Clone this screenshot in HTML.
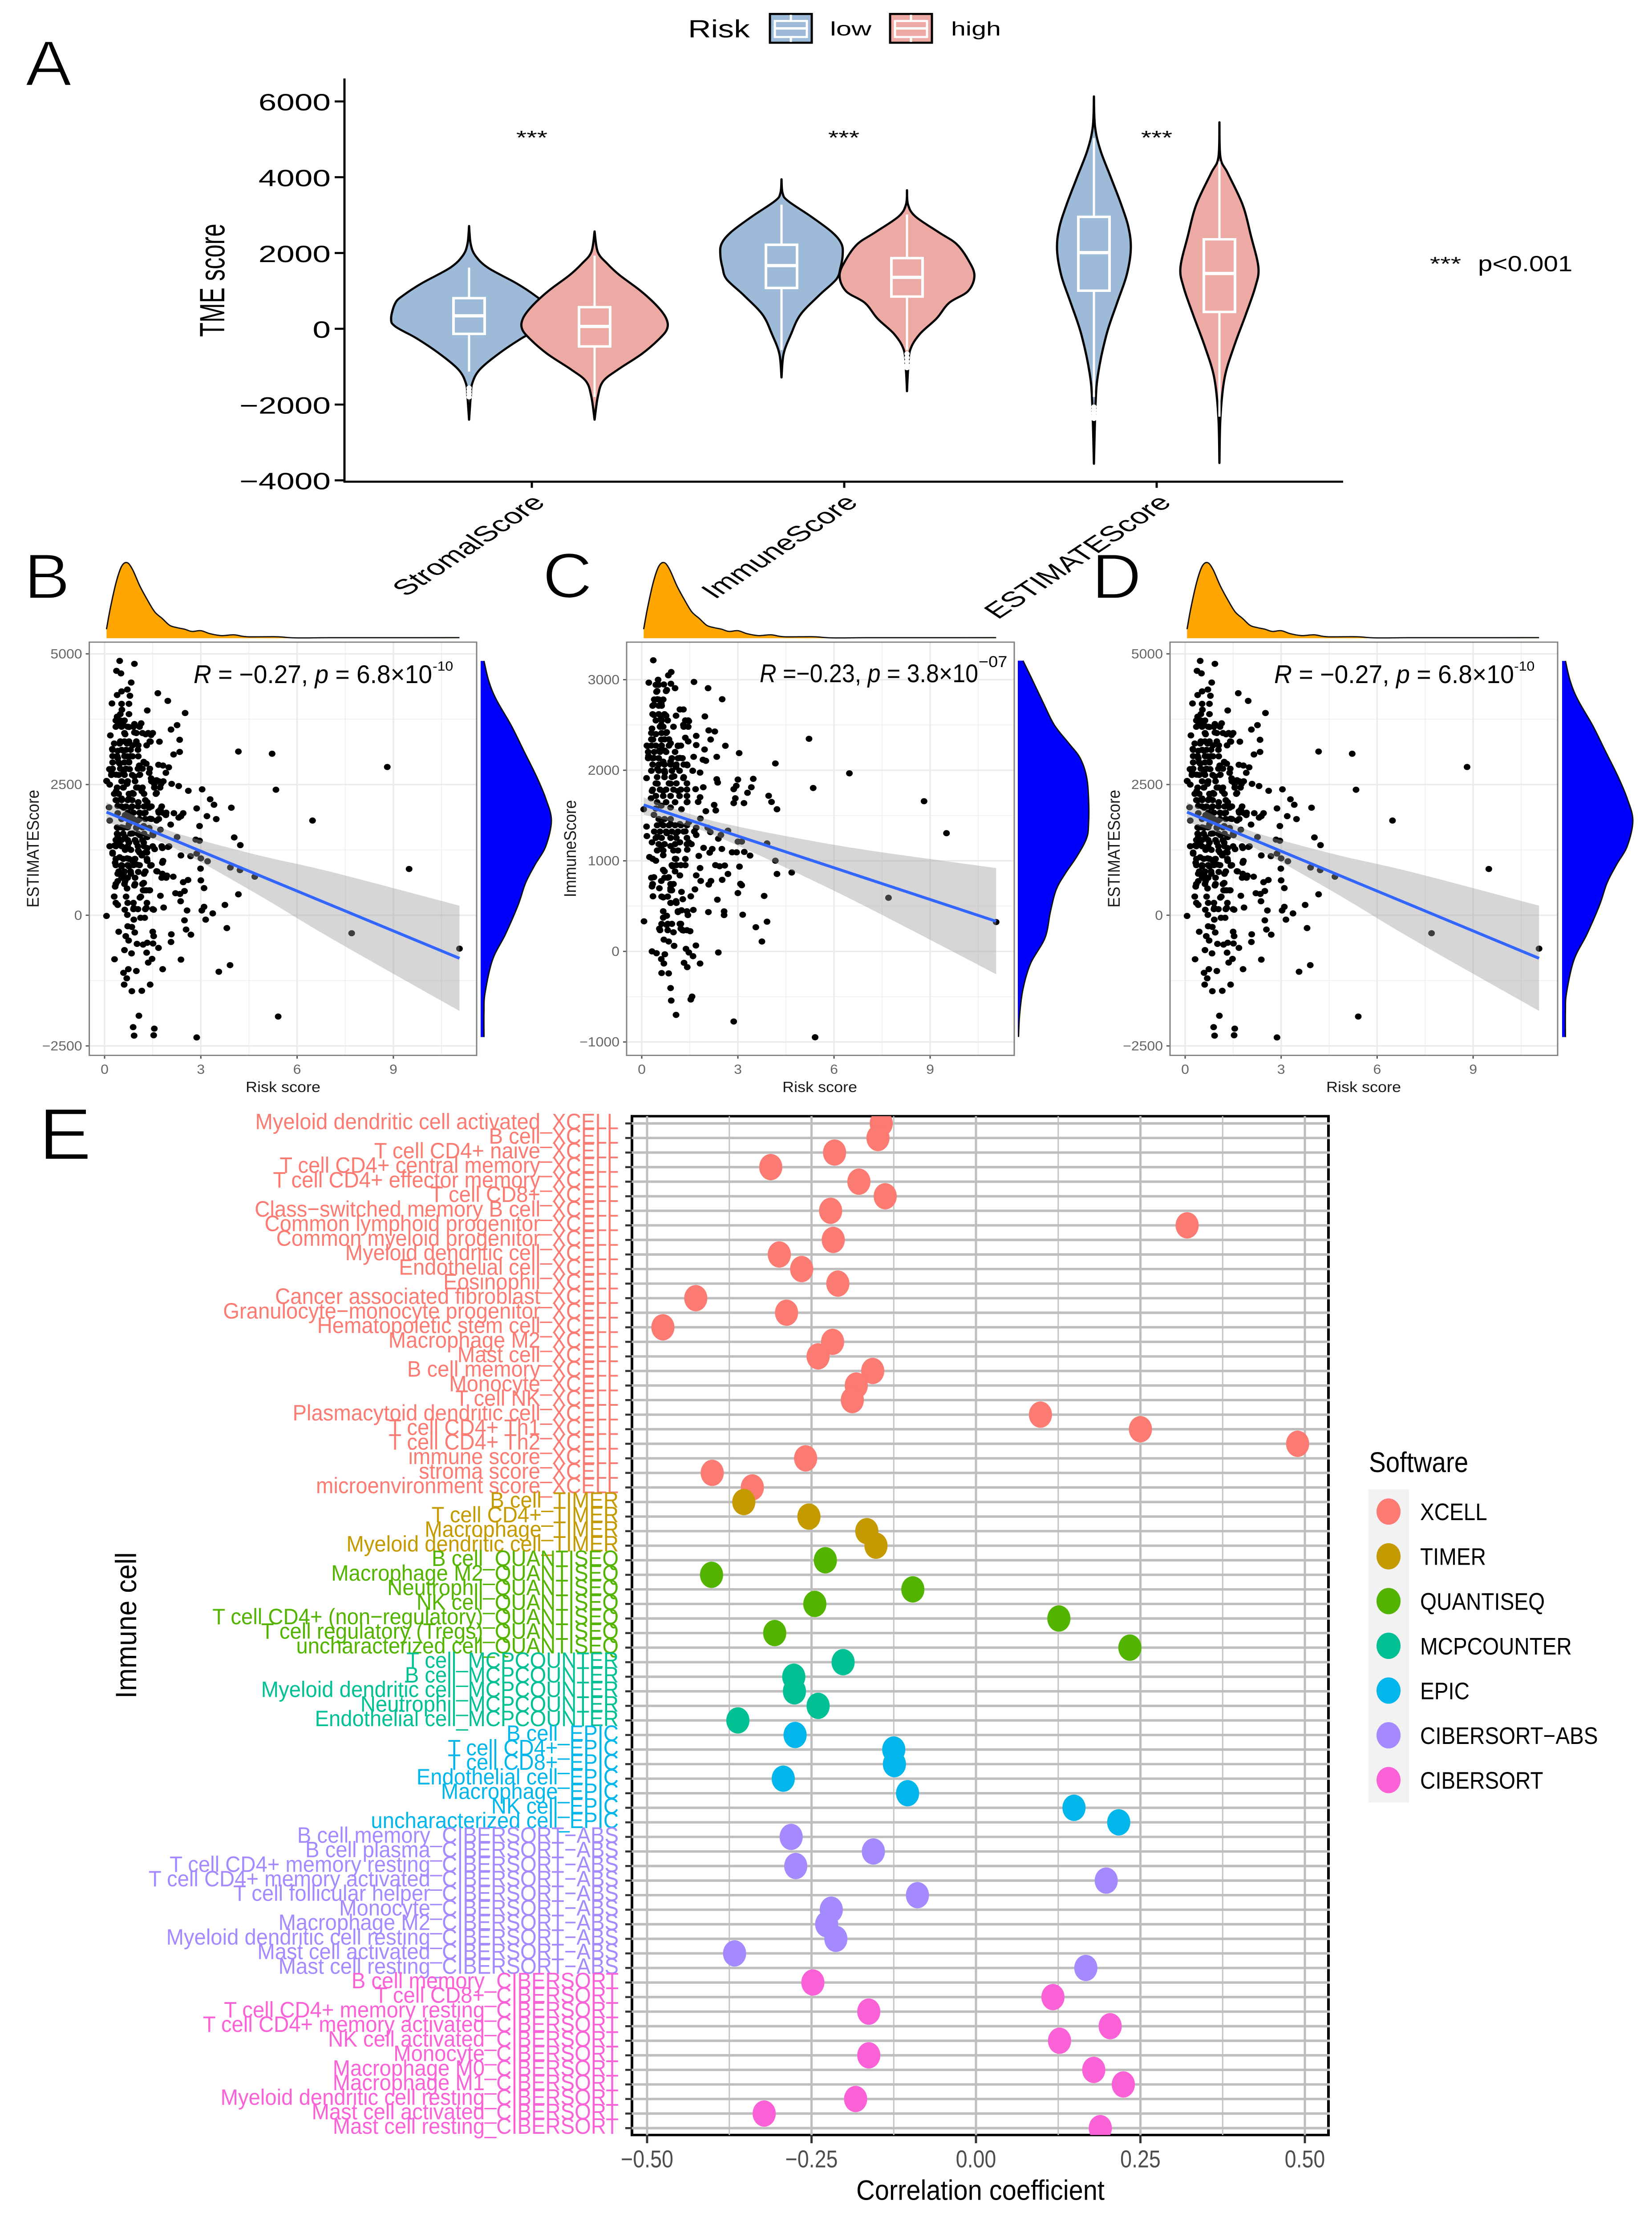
<!DOCTYPE html>
<html lang="en">
<head>
<meta charset="utf-8">
<title>TME score, risk correlations and immune cell correlation figure</title>
<style>
html,body{margin:0;padding:0;background:#fff;width:100%;height:100%;overflow:hidden;}
svg{display:block;width:100vw;height:100vh;font-family:"Liberation Sans",sans-serif;}
text{font-family:"Liberation Sans",sans-serif;}
</style>
</head>
<body>
<svg id="figure" xmlns="http://www.w3.org/2000/svg" viewBox="0 0 3712 5414" preserveAspectRatio="none">
<defs><clipPath id="panel-e-clip"><rect x="1420" y="2716" width="1565" height="2479"/></clipPath></defs>
<rect x="0" y="0" width="3712" height="5414" fill="#fff"/>

<g fill="#000" stroke="#fff" stroke-width="3">
<text x="57" y="208" font-size="156">A</text>
<text x="54" y="1456" font-size="155">B</text>
<text x="1219" y="1454" font-size="155">C</text>
<text x="2453" y="1456" font-size="155">D</text>
<text x="87" y="2821" font-size="178">E</text>
</g>

<g id="panel-a"></g>
<g fill="#000">
<text font-size="57" text-anchor="middle" transform="translate(504,682) scale(1.38,1) rotate(-90)">TME score</text>
<text font-size="53" text-anchor="end" transform="translate(1228,1226) scale(1.39,1) rotate(-45)">StromalScore</text>
<text font-size="53" text-anchor="end" transform="translate(1931,1226) scale(1.39,1) rotate(-45)">ImmuneScore</text>
<text font-size="53" text-anchor="end" transform="translate(2635,1226) scale(1.39,1) rotate(-45)">ESTIMATEScore</text>
<text font-size="47" text-anchor="middle" transform="translate(1195,351) scale(1.28,1)">***</text>
<text font-size="47" text-anchor="middle" transform="translate(1896,351) scale(1.28,1)">***</text>
<text font-size="47" text-anchor="middle" transform="translate(2599,351) scale(1.28,1)">***</text>
<text font-size="47" text-anchor="middle" transform="translate(3248,658) scale(1.28,1)">***</text>
<text font-size="53" transform="translate(3321,660) scale(1.1,1)">p&lt;0.001</text>
<text font-size="60" transform="translate(1546,91) scale(1.19,1)">Risk</text>
<g>
<rect x="1730" y="34" width="94" height="70" fill="#9DBAD9" stroke="#000" stroke-width="5"/>
<line x1="1777" x2="1777" y1="36" y2="102" stroke="#fff" stroke-width="5"/>
<rect x="1741" y="51" width="72" height="39" fill="#9DBAD9" stroke="#fff" stroke-width="5"/>
<line x1="1741" x2="1813" y1="69" y2="69" stroke="#fff" stroke-width="6"/>
<text font-size="47" transform="translate(1865,86) scale(1.32,1)">low</text>
</g>
<g>
<rect x="2000" y="34" width="94" height="70" fill="#EDA9A3" stroke="#000" stroke-width="5"/>
<line x1="2047" x2="2047" y1="36" y2="102" stroke="#fff" stroke-width="5"/>
<rect x="2011" y="51" width="72" height="39" fill="#EDA9A3" stroke="#fff" stroke-width="5"/>
<line x1="2011" x2="2083" y1="69" y2="69" stroke="#fff" stroke-width="6"/>
<text font-size="47" transform="translate(2137,86) scale(1.26,1)">high</text>
</g>
</g>

<g id="panel-b"></g>
<g id="panel-c"></g>
<g id="panel-d"></g>

<g fill="#000" font-size="62">
<text x="435" y="1662" textLength="536" lengthAdjust="spacingAndGlyphs"><tspan font-style="italic">R</tspan> = −0.27, <tspan font-style="italic">p</tspan> = 6.8×10</text>
<text x="972" y="1632" font-size="32">-10</text>
<text x="1707" y="1660" textLength="491" lengthAdjust="spacingAndGlyphs"><tspan font-style="italic">R</tspan> =−0.23, <tspan font-style="italic">p</tspan> = 3.8×10</text>
<text x="2199" y="1623" font-size="38">−07</text>
<text x="2863" y="1662" textLength="539" lengthAdjust="spacingAndGlyphs"><tspan font-style="italic">R</tspan> = −0.27, <tspan font-style="italic">p</tspan> = 6.8×10</text>
<text x="3402" y="1632" font-size="32">-10</text>
</g>
<g fill="#1a1a1a" font-size="38">
<text text-anchor="middle" transform="translate(87,2065) rotate(-90)">ESTIMATEScore</text>
<text text-anchor="middle" transform="translate(1294,2065) rotate(-90)">ImmuneScore</text>
<text text-anchor="middle" transform="translate(2516,2065) rotate(-90)">ESTIMATEScore</text>
<text text-anchor="middle" font-size="36" x="636" y="2657">Risk score</text>
<text text-anchor="middle" font-size="36" x="1842" y="2657">Risk score</text>
<text text-anchor="middle" font-size="36" x="3064" y="2657">Risk score</text>
</g>

<g id="panel-e"></g>
<g fill="#000">
<text font-size="66" text-anchor="middle" transform="translate(306,3955) rotate(-90)">Immune cell</text>
<text font-size="68" text-anchor="middle" transform="translate(2203,5353) scale(.85,1)">Correlation coefficient</text>
<text font-size="69" transform="translate(3076,3582) scale(.82,1)">Software</text>
<rect x="3075" y="3624" width="91" height="762" fill="#f2f2f2"/>
</g>
<g id="software-legend"></g>
</svg>

<script>
// ---------- Panel A data: TME score violins ----------
const tickScoresA = [6000, 4000, 2000, 0, -2000, -4000];
const categoriesA = ['StromalScore', 'ImmuneScore', 'ESTIMATEScore'];
const stromalLowScore = [2714, 2240, 1930, 1610, 1200, 890, 680, 270, 60, -250, -660, -1080, -1440, -1800, -2400];
const stromalLowDensity = [0, 1.5, 6, 18, 45, 62, 70, 74, 70, 50, 28, 10, 3, 1.5, 0];
const stromalHighScore = [2570, 2030, 1720, 1410, 995, 580, 270, 10, -250, -660, -1080, -1390, -1800, -2400];
const stromalHighDensity = [0, 3, 12, 24, 44, 60, 68, 69, 62, 45, 22, 8, 3, 0];
const immuneLowScore = [3947, 3585, 3377, 2963, 2549, 2238, 1927, 1616, 1305, 890, 373, -145, -663, -1285];
const immuneLowDensity = [0, 1, 6, 28, 48, 57, 58, 56, 52, 36, 18, 9, 2, 0];
const immuneHighScore = [3657, 3274, 2963, 2549, 2238, 1823, 1409, 995, 684, 269, -145, -560, -1077, -1647];
const immuneHighDensity = [0, 1, 8, 30, 47, 58, 64, 58, 40, 28, 12, 3, 1, 0];
const estimateLowScore = [6133, 5346, 4724, 3999, 3274, 2652, 2082, 1409, 684, -145, -1181, -2010, -3564];
const estimateLowDensity = [0, 1, 6, 16, 26, 33, 35, 31, 22, 12, 4, 1.5, 0];
const estimateHighScore = [5449, 4517, 4103, 3274, 2445, 1616, 1098, 373, -456, -1285, -2321, -3543];
const estimateHighDensity = [0, 1, 8, 22, 30, 37, 34, 25, 14, 5, 1, 0];
const boxQ1 = [-135, -466, 1077, 850, 1005, 445];
const boxMedian = [342, 62, 1668, 1357, 2010, 1460];
const boxQ3 = [808, 570, 2217, 1865, 2953, 2362];
const whiskerLow = [-1130, -1800, -560, -560, -1800, -2320];
const whiskerHigh = [1616, 1930, 3274, 3015, 5035, 4413];
const outliersStromalLow = [-1560, -1640, -1720, -1800];
const outliersImmuneHigh = [-660, -760, -860, -960, -1030];
const outliersEstimateLow = [-2060, -2140, -2220, -2300, -2370];

// ---------- Panels B / D data: risk score vs ESTIMATEScore ----------
const riskTicks = [0, 3, 6, 9];
const riskMinorTicks = [1.5, 4.5, 7.5, 10.5];
const estimateTicks = [-2500, 0, 2500, 5000];
const estimateMinorTicks = [-1250, 1250, 3750];
const immuneTicks = [-1000, 0, 1000, 2000, 3000];
const immuneMinorTicks = [-500, 500, 1500, 2500];
const riskScoreB = [11.06,9.49,8.81,7.70,6.48,5.41,5.34,5.22,4.17,3.95,4.04,4.23,4.22,4.68,3.92,4.17,3.91,3.56,3.81,3.75,3.37,3.15,3.03,3.10,3.10,3.00,2.99,3.21,3.00,2.87,2.68,2.38,2.96,2.84,2.96,3.19,2.87,3.48,3.41,3.29,3.04,2.61,2.31,2.09,2.38,2.45,2.16,2.31,2.06,2.26,1.98,2.14,1.94,2.45,2.60,2.49,2.21,2.35,2.37,2.57,2.49,2.54,2.69,2.08,2.07,2.38,1.81,2.87,1.53,1.55,0.92,0.89,1.07,0.85,1.16,1.42,0.61,0.69,0.59,0.74,0.99,0.31,0.62,0.84,1.36,1.48,1.31,1.68,1.51,1.33,1.20,1.01,0.44,0.66,0.75,1.53,1.50,0.94,0.85,0.72,0.06,0.71,0.91,1.12,1.25,1.53,1.84,1.30,1.10,0.91,0.63,0.41,0.30,0.33,0.41,0.64,0.93,1.22,1.20,1.30,1.39,1.74,1.62,1.80,1.80,1.82,1.43,1.33,1.23,1.01,0.87,0.70,0.47,0.33,0.25,0.16,0.31,0.64,1.05,1.33,1.56,1.80,0.14,0.16,0.41,0.64,0.87,1.10,1.39,1.68,1.91,1.74,1.74,0.41,0.59,0.76,0.99,1.22,1.39,1.51,1.33,1.10,0.87,0.64,0.41,0.47,0.76,0.99,1.22,0.82,1.16,0.53,0.76,0.93,0.59,0.82,1.05,0.41,0.70,0.06,0.16,0.36,0.59,0.76,0.99,1.16,1.33,1.62,1.76,1.62,1.45,1.39,1.68,2.00,1.82,1.91,1.30,1.08,1.22,0.78,0.59,0.36,0.22,0.15,0.24,0.41,0.70,0.87,0.64,0.30,0.47,0.70,0.87,1.05,1.31,1.43,1.71,1.28,1.45,0.93,0.64,0.18,0.41,0.59,0.76,0.93,1.14,0.39,0.49,0.76,1.33,0.54,0.23,0.53,0.76,1.66,1.97,2.51,2.34,2.26,2.07,2.15,2.34,0.37,0.51,0.47,0.93,0.83,0.71,0.53,0.39,0.79,0.53,0.39,0.87,1.05,1.22,0.82,0.59,0.41,0.70,0.93,1.10,0.47,0.76,0.41,0.59,1.05,1.55,1.84,1.42,1.62,0.76,1.03];
const estimateScore = [-639,885,2836,-344,1811,-1938,2401,3089,3131,2057,1488,1341,863,737,913,400,-955,-1081,-246,197,35,-84,91,161,519,667,892,1032,1088,1179,1130,1144,1425,1446,1706,1895,2043,1839,2113,2218,2408,2380,2471,2513,1895,1952,1952,1867,1734,1495,1306,737,758,632,674,463,421,407,267,91,-98,-274,-372,-365,-512,-849,-1032,-2338,-2296,-2169,-2303,-2141,-1923,-1453,-1446,-1327,-1327,-1207,-1102,-1032,-1067,-842,-667,-730,-906,-835,-716,-625,-541,-527,-562,-548,-316,-400,-484,-400,-316,-330,-225,-211,-14,7,-84,-49,-49,105,147,140,337,140,105,197,358,548,653,653,569,618,477,477,477,372,842,793,1004,1039,948,1039,793,969,1039,1088,1109,1004,1179,1320,1334,1250,1236,1285,1264,1285,2064,1811,1952,1916,1846,1952,2057,1987,1916,2022,1636,1671,1671,1741,1671,1706,1671,1530,1495,1530,1565,1495,1495,1355,1390,1390,1390,1250,1144,934,934,1074,793,793,828,793,512,2569,2499,2373,2443,2232,2443,2373,2162,2338,2513,2583,2618,2724,2878,2829,2864,2724,2899,2864,2934,2794,2724,2689,2724,2794,3180,3005,3040,3040,2794,3285,3285,3285,3250,3250,3250,3320,3320,3461,3447,3496,3461,3440,3636,3636,3601,3657,3671,3798,3847,3847,3917,3931,4051,4044,4044,4247,4100,3868,3356,3636,3552,3075,3124,4675,4626,4865,4809,4451,4317,4282,4212,4198,2232,2197,2338,2162,1952,2057,2057,2092,2513,2654,2689,2899,2934,3145,3145,3040,2513,1952,1846,1811,1881,1811];
// Dense cloud of B/D, read row by row: one score level, the risk scores seen at that level
const denseEstimateLevels = [3726,3605,3485,3325,3164,3044,2923,2803,2683,2563,2442,2322,2202,2081,1961,1841,1680,1560,1439,1319,1199,1078,958,838,717,597,477,356,236,116];
const denseEstimateRisk = [[.35,.49,.62],[.35,.53,.72,.90,1.09],[.62,.99,1.18,1.36,1.50],[.49,.62,.76,.99,1.41],[.25,.53,.67,.81,1.04],[.25,.39,.62,.81],[.25,.44,.62,.76,1.23],[.25,.49,.67,1.04,1.18,1.41],[.21,.44,.62,.86,1.09],[.07,.53,.72,.95,1.46,1.69,1.83],[.39,.58,1.04,1.18,1.55,1.73],[.30,.44,.76,.90,1.23,1.60],[.35,.53,.72,.86,1.27],[.53,.67,.86,1.04,1.23,1.46,1.78],[.72,.90,1.09,1.27,1.69,1.92],[.53,.72,.90,1.09,1.27,1.46,1.69],[.39,.53,.72,.99,1.18],[.39,.58,.81,1.04,1.23,1.50],[.35,.53,.72,.95,1.18],[.16,.35,.53,.72,1.04,1.23,1.50,1.78,2.01],[.25,1.09,1.27,1.32],[.35,.58,.76,.95,1.32],[.35,.53,.72,.90,1.09,1.46],[.44,.62,.81,1.27,1.64],[.53,.72,.95,1.78,1.92],[.35,.62,.95,1.18],[1.23,1.41],[.30,.67,1.13],[.35,.72,.90,1.32],[.90,1.04,1.27,1.50]];

// ---------- Panel C data: risk score vs ImmuneScore ----------
const riskScoreC = [11.06,9.51,8.81,7.70,6.48,5.41,5.35,5.22,4.17,4.22,4.05,3.96,3.91,4.17,4.22,4.68,3.82,3.91,3.75,3.56,3.15,3.12,3.08,3.00,3.05,3.38,3.20,2.96,2.82,3.12,3.00,2.69,2.69,2.47,2.39,3.19,2.87,2.92,2.87,2.95,3.00,3.30,3.42,3.48,3.04,2.61,2.34,2.51,2.07,1.63,1.97,2.09,2.28,2.15,1.96,1.91,2.00,2.34,2.37,1.92,2.26,2.31,2.00,1.82,1.68,1.82,1.76,1.83,2.06,2.14,1.93,2.20,2.12,1.78,2.50,2.30,2.43,2.59,2.51,2.16,2.09,1.84,1.82,1.70,1.66,1.53,2.36,2.57,2.57,2.08,1.61,1.44,1.51,1.30,1.19,1.69,1.38,1.47,1.60,2.39,1.82,1.32,1.42,0.84,0.62,0.69,0.61,0.72,0.32,0.46,1.01,0.84,0.69,0.55,0.67,0.78,0.07,0.78,0.99,1.22,0.90,0.92,1.07,1.57,1.53,2.87,0.35,0.32,0.38,0.24,0.44,0.16,0.15,0.06,0.29,0.15,0.32,0.21,0.38,0.18,0.35,0.32,0.44,0.22,0.36,0.51,0.83,0.92,0.69,0.91,1.04,0.78,0.46,0.38,0.61,0.49,0.38,0.61,0.76,1.07,1.19,1.30,0.99,0.61,0.78,0.61,0.90,1.13,1.36,1.47,1.30,1.45,1.70,1.70,1.62,1.42,1.59,1.30,1.07,0.90,0.67,0.49,0.72,1.01,1.19,0.55,0.72,0.49,0.67,0.90,1.13,1.42,1.24,0.90,0.61,0.38,0.61,0.90,1.19,1.47,1.70,1.36,1.07,0.78,0.49,0.32,0.61,0.90,1.19,1.47,1.70,1.42,1.07,0.67,1.36,0.96,0.67,1.19,0.84,0.61,0.90,1.24,0.55,1.07,0.90,0.67,1.24,1.13,1.28];
const immuneScore = [324,1305,1658,592,1966,-948,1804,2347,2075,1569,1650,1718,1192,1001,855,871,612,328,109,267,405,730,746,644,936,1058,1098,1094,1094,1212,1212,855,1333,1285,1244,1637,1637,1690,1791,1828,1897,1751,1812,1905,2189,2270,2148,2784,2906,2975,2594,2440,2428,2339,2229,2116,2104,1901,1864,1812,1617,1556,1548,1974,1791,1702,1650,1467,1366,1317,1143,1131,1090,1054,1131,952,940,948,790,778,738,778,920,839,685,608,571,442,401,434,458,401,223,231,304,65,28,-12,-53,-12,-134,-126,-174,-243,-239,-134,-85,-32,0,-20,61,109,130,251,373,393,332,292,211,251,-405,-543,-701,-499,-531,-774,608,717,819,1042,1001,1273,1378,1569,1690,1913,1771,2156,2136,2266,2339,2460,2399,2967,3214,2999,3048,3084,2947,2955,2906,2886,2866,2724,2736,2784,2610,2582,2602,2602,2671,2671,2480,2501,2420,2339,2298,2266,2359,2541,2501,2318,2379,2278,2148,2055,1994,1913,2035,2095,2095,2014,1974,1933,2136,2217,2217,1852,1771,1852,1771,1650,1569,1589,1609,1508,1406,1406,1406,1427,1366,1325,1305,1305,1265,1204,1163,1163,1204,1204,1285,1123,1021,1062,1021,940,900,839,819,778,697,657,697,555,535,596,454,434,576];
// Dense cloud of C, read row by row
const denseImmuneLevels = [2943,2874,2781,2712,2619,2550,2480,2411,2341,2272,2202,2133,2063,1994,1924,1855,1786,1716,1647,1577,1461,1392,1323,1253,1184,1114,1022,952,883,813,744,674,605,535,443,304,234];
const denseImmuneRisk = [[.53,.44],[.48,.76],[.39,.53,.67],[.34,.53,.62],[.34,.53,.71],[.44,.62,.81,1.36,1.45],[.57,.67,1.31,1.45],[.30,.62,.76],[.71,.85,.30],[.16,.30,.44,.62,.85,1.13,1.22],[.20,.39,.57,.76,1.04],[.20,.34,.53,.94,1.13,1.27],[.34,.53,.71,.90,1.08,1.31,1.41],[.30,.53,.71,.94,1.18,1.59],[.48,.71,.94,1.31],[.44,.85,1.08,1.41],[.34,.57,.76,.99,1.22,1.41],[.44,.67,.90,1.18,1.41],[.48,.76,1.04,1.41],[.44],[.53,.71,.90],[.48,.67,.85,1.04,1.22,1.41],[.39,.57,.76,.94,1.13,1.31,1.64],[.44,.62,.90,1.08,1.41],[.53,.71,1.04,1.41,1.55],[.48,.67,.99,1.13],[.34,1.04],[.94,1.08,1.22,1.36],[.71,1.04],[.30,.71,.81],[.34,.90,.99],[.90,.94],[.62,.81],[.90,1.08],[.67,1.13,1.41],[.62,.81,.94,1.22],[.57,.81,1.27,1.41]];

// ---------- Regression fits and confidence bands ----------
const fitRisk = [0.06, 1.4, 2.5, 4.8, 7.1, 11.06];
const estimateFit = [1973, 1632, 1352, 767, 183, -824];
const estimateUpper = [2163, 1772, 1522, 1147, 823, 183];
const estimateLower = [1783, 1492, 1182, 387, -457, -1831];
const immuneFit = [1617, 1460, 1332, 1063, 795, 332];
const immuneUpper = [1700, 1530, 1417, 1253, 1115, 920];
const immuneLower = [1510, 1390, 1247, 873, 475, -252];

// ---------- Marginal densities ----------
const riskDensityX = [0.06,0.18,0.36,0.53,0.70,0.87,1.10,1.33,1.56,1.80,2.03,2.26,2.49,2.72,3.00,3.29,3.64,4.04,4.44,5.36,5.94,7.0,9.0,11.06];
const riskDensityY = [0.12,0.40,0.74,0.95,1.0,0.91,0.69,0.51,0.35,0.26,0.17,0.14,0.12,0.09,0.10,0.06,0.035,0.045,0.02,0.02,0.005,0.007,0.007,0.008];
const estimateDensityScore = [4865,4479,4128,3636,3145,2654,2232,1811,1320,969,618,197,-365,-856,-1488,-1839,-2331];
const estimateDensityValue = [0.047,0.115,0.22,0.43,0.61,0.79,0.92,1.0,0.92,0.77,0.635,0.53,0.35,0.167,0.0625,0.047,0.047];
const immuneDensityScore = [3210,3007,2744,2501,2298,2136,1933,1690,1406,1244,1042,859,677,434,150,-134,-417,-701,-944];
const immuneDensityValue = [0.073,0.20,0.36,0.515,0.72,0.88,0.97,1.0,1.0,0.97,0.83,0.67,0.54,0.46,0.385,0.18,0.073,0.026,0.01];

// ---------- Panel E data ----------
const softwareNames = ['XCELL', 'TIMER', 'QUANTISEQ', 'MCPCOUNTER', 'EPIC', 'CIBERSORT−ABS', 'CIBERSORT'];
const softwareCounts = [26, 4, 7, 5, 7, 10, 11];
const immuneCells = ['Myeloid dendritic cell activated','B cell','T cell CD4+ naive','T cell CD4+ central memory','T cell CD4+ effector memory','T cell CD8+','Class−switched memory B cell','Common lymphoid progenitor','Common myeloid progenitor','Myeloid dendritic cell','Endothelial cell','Eosinophil','Cancer associated fibroblast','Granulocyte−monocyte progenitor','Hematopoietic stem cell','Macrophage M2','Mast cell','B cell memory','Monocyte','T cell NK','Plasmacytoid dendritic cell','T cell CD4+ Th1','T cell CD4+ Th2','immune score','stroma score','microenvironment score',
'B cell','T cell CD4+','Macrophage','Myeloid dendritic cell',
'B cell','Macrophage M2','Neutrophil','NK cell','T cell CD4+ (non−regulatory)','T cell regulatory (Tregs)','uncharacterized cell',
'T cell','B cell','Myeloid dendritic cell','Neutrophil','Endothelial cell',
'B cell','T cell CD4+','T cell CD8+','Endothelial cell','Macrophage','NK cell','uncharacterized cell',
'B cell memory','B cell plasma','T cell CD4+ memory resting','T cell CD4+ memory activated','T cell follicular helper','Monocyte','Macrophage M2','Myeloid dendritic cell resting','Mast cell activated','Mast cell resting',
'B cell memory','T cell CD8+','T cell CD4+ memory resting','T cell CD4+ memory activated','NK cell activated','Monocyte','Macrophage M0','Macrophage M1','Myeloid dendritic cell resting','Mast cell activated','Mast cell resting'];
const correlations = [-0.144,-0.149,-0.215,-0.312,-0.178,-0.138,-0.221,0.321,-0.217,-0.299,-0.265,-0.210,-0.426,-0.288,-0.476,-0.218,-0.240,-0.157,-0.182,-0.188,0.098,0.250,0.489,-0.259,-0.401,-0.340,
-0.353,-0.254,-0.166,-0.152,
-0.229,-0.402,-0.096,-0.245,0.126,-0.306,0.234,
-0.202,-0.277,-0.276,-0.240,-0.362,
-0.275,-0.125,-0.124,-0.293,-0.104,0.149,0.217,
-0.281,-0.156,-0.274,0.198,-0.089,-0.220,-0.227,-0.213,-0.367,0.167,
-0.248,0.117,-0.163,0.204,0.127,-0.163,0.179,0.224,-0.183,-0.322,0.189];
const correlationTicks = [-0.50, -0.25, 0, 0.25, 0.50];
const correlationMinorTicks = [-0.375, -0.125, 0.125, 0.375];

// ---------- Helpers ----------
const NS = 'http://www.w3.org/2000/svg';
function mk(tag, attrs, parent) {
  const el = document.createElementNS(NS, tag);
  for (const k in attrs) el.setAttribute(k, attrs[k]);
  parent.appendChild(el);
  return el;
}
function smoothPath(pts, move) {
  let d = (move ? 'M' : 'L') + pts[0][0].toFixed(1) + ' ' + pts[0][1].toFixed(1);
  for (let i = 0; i < pts.length - 1; i++) {
    const p0 = pts[Math.max(0, i - 1)], p1 = pts[i], p2 = pts[i + 1], p3 = pts[Math.min(pts.length - 1, i + 2)];
    const c1 = [p1[0] + (p2[0] - p0[0]) / 6, p1[1] + (p2[1] - p0[1]) / 6];
    const c2 = [p2[0] - (p3[0] - p1[0]) / 6, p2[1] - (p3[1] - p1[1]) / 6];
    d += 'C' + c1[0].toFixed(1) + ' ' + c1[1].toFixed(1) + ' ' + c2[0].toFixed(1) + ' ' + c2[1].toFixed(1) + ' ' + p2[0].toFixed(1) + ' ' + p2[1].toFixed(1);
  }
  return d;
}
function fmt(v) { return String(v).replace('-', '−'); }

// ---------- Panel A ----------
(function () {
  const g = document.getElementById('panel-a');
  const yA = v => 800 - v * 0.0922;
  const catX = i => 1195 + 702 * i;
  const dodge = 141;
  const widthUnit = 2.367;
  const violins = [
    [stromalLowScore, stromalLowDensity, 0, -1, '#9DBAD9'],
    [stromalHighScore, stromalHighDensity, 0, 1, '#EDA9A3'],
    [immuneLowScore, immuneLowDensity, 1, -1, '#9DBAD9'],
    [immuneHighScore, immuneHighDensity, 1, 1, '#EDA9A3'],
    [estimateLowScore, estimateLowDensity, 2, -1, '#9DBAD9'],
    [estimateHighScore, estimateHighDensity, 2, 1, '#EDA9A3']
  ];
  violins.forEach((v, i) => {
    const cx = catX(v[2]) + v[3] * dodge;
    const right = v[0].map((s, k) => [cx + v[1][k] * widthUnit, yA(s)]);
    const left = v[0].map((s, k) => [cx - v[1][k] * widthUnit, yA(s)]).reverse();
    const body = mk('path', { d: smoothPath(right, true) + smoothPath(left, false) + 'Z', fill: v[4], stroke: '#000', 'stroke-width': 5, 'stroke-linejoin': 'round' }, g);
    
    
    const whisker = mk('line', { x1: cx, x2: cx, y1: yA(whiskerHigh[i]), y2: yA(whiskerLow[i]), stroke: '#fff', 'stroke-width': 5 }, g);
    
    
    const box = mk('rect', { x: cx - 35, y: yA(boxQ3[i]), width: 70, height: yA(boxQ1[i]) - yA(boxQ3[i]), fill: v[4], stroke: '#fff', 'stroke-width': 6 }, g);
    
    
    const med = mk('line', { x1: cx - 35, x2: cx + 35, y1: yA(boxMedian[i]), y2: yA(boxMedian[i]), stroke: '#fff', 'stroke-width': 8 }, g);
    
    
  });
  [[outliersStromalLow, 0, -1], [outliersImmuneHigh, 1, 1], [outliersEstimateLow, 2, -1]].forEach(o => {
    o[0].forEach(s => {
      const c = mk('circle', { cx: catX(o[1]) + o[2] * dodge, cy: yA(s), r: 6, fill: '#fff' }, g);
      
      
    });
  });
  const yAxis = mk('line', { x1: 774, x2: 774, y1: 191, y2: 1174, stroke: '#000', 'stroke-width': 5 }, g);
  
  
  const xAxis = mk('line', { x1: 772, x2: 3018, y1: 1172, y2: 1172, stroke: '#000', 'stroke-width': 5 }, g);
  
  
  tickScoresA.forEach(v => {
    const t = mk('line', { x1: 752, x2: 774, y1: yA(v), y2: yA(v), stroke: '#000', 'stroke-width': 5 }, g);
    
    
    const l = mk('text', { 'font-size': 57, 'text-anchor': 'end', fill: '#000', transform: 'translate(743,' + (yA(v) + 22) + ') scale(1.28,1)' }, g);
    l.textContent = fmt(v);
    
    
  });
  categoriesA.forEach((c, i) => {
    const t = mk('line', { x1: catX(i), x2: catX(i), y1: 1172, y2: 1187, stroke: '#000', 'stroke-width': 5 }, g);
    
    
  });
})();

// ---------- Panels B, C, D ----------
function drawScatter(cfg) {
  const g = document.getElementById(cfg.id);
  const x = v => cfg.x0 + v * cfg.xk;
  const y = v => cfg.y0 - v * cfg.yk;
  const border = { x: cfg.left, y: 1562.5, w: cfg.right - cfg.left, h: 1005.5 };

  const panelBg = mk('rect', { x: border.x, y: border.y, width: border.w, height: border.h, fill: '#fff' }, g);
  
  

  cfg.yMinor.forEach(v => {
    const l = mk('line', { x1: border.x, x2: border.x + border.w, y1: y(v), y2: y(v), stroke: '#f0f0f0', 'stroke-width': 2 }, g);
    
    
  });
  riskMinorTicks.forEach(v => {
    const l = mk('line', { x1: x(v), x2: x(v), y1: border.y, y2: border.y + border.h, stroke: '#f0f0f0', 'stroke-width': 2 }, g);
    
    
  });
  cfg.yTicks.forEach(v => {
    const l = mk('line', { x1: border.x, x2: border.x + border.w, y1: y(v), y2: y(v), stroke: '#ebebeb', 'stroke-width': 3.5 }, g);
    
    
    const t = mk('line', { x1: border.x - 8, x2: border.x, y1: y(v), y2: y(v), stroke: '#555', 'stroke-width': 3 }, g);
    
    
    const s = mk('text', { x: border.x - 16, y: y(v) + 11, 'font-size': 32, 'text-anchor': 'end', fill: '#666' }, g);
    s.textContent = fmt(v);
    
    
  });
  riskTicks.forEach(v => {
    const l = mk('line', { x1: x(v), x2: x(v), y1: border.y, y2: border.y + border.h, stroke: '#ebebeb', 'stroke-width': 3.5 }, g);
    
    
    const t = mk('line', { x1: x(v), x2: x(v), y1: border.y + border.h, y2: border.y + border.h + 8, stroke: '#555', 'stroke-width': 3 }, g);
    
    
    const s = mk('text', { x: x(v), y: 2613, 'font-size': 32, 'text-anchor': 'middle', fill: '#666' }, g);
    s.textContent = fmt(v);
    
    
  });

  cfg.risk.forEach((r, i) => {
    const c = mk('circle', { cx: x(r), cy: y(cfg.score[i]), r: 7.5, fill: '#000' }, g);
    
    
  });
  cfg.denseLevels.forEach((level, row) => {
    cfg.denseRisk[row].forEach(r => {
      const c = mk('circle', { cx: x(r), cy: y(level), r: 7.5, fill: '#000' }, g);
      
      
    });
  });

  const upperPts = fitRisk.map((r, i) => [x(r), y(cfg.upper[i])]);
  const lowerPts = fitRisk.map((r, i) => [x(r), y(cfg.lower[i])]).reverse();
  const band = mk('path', { d: smoothPath(upperPts, true) + smoothPath(lowerPts, false) + 'Z', fill: '#999', 'fill-opacity': 0.4 }, g);
  
  
  const fit = mk('polyline', { points: fitRisk.map((r, i) => x(r).toFixed(1) + ',' + y(cfg.fit[i]).toFixed(1)).join(' '), fill: 'none', stroke: '#3366FF', 'stroke-width': 7 }, g);
  
  

  const frame = mk('rect', { x: border.x, y: border.y, width: border.w, height: border.h, fill: 'none', stroke: '#808080', 'stroke-width': 3 }, g);
  
  

  // Top marginal density
  const baseY = 1553, topH = 184;
  const topPts = riskDensityX.map((r, i) => [x(r), baseY - riskDensityY[i] * topH]);
  const topCurve = smoothPath(topPts, true);
  const topFill = mk('path', { d: topCurve + 'L' + x(riskDensityX[riskDensityX.length - 1]) + ' ' + baseY + 'L' + x(riskDensityX[0]) + ' ' + baseY + 'Z', fill: '#FFA500' }, g);
  
  
  const topLine = mk('path', { d: topCurve, fill: 'none', stroke: '#111', 'stroke-width': 3 }, g);
  
  

  // Right marginal density
  const rightW = 159;
  const sidePts = cfg.densScore.map((s, i) => [cfg.densBase + cfg.densValue[i] * rightW, y(s)]);
  const sideCurve = smoothPath(sidePts, true);
  const first = cfg.densScore[0], last = cfg.densScore[cfg.densScore.length - 1];
  const sideFill = mk('path', { d: sideCurve + 'L' + cfg.densBase + ' ' + y(last) + 'L' + cfg.densBase + ' ' + y(first) + 'Z', fill: '#0000FF' }, g);
  
  
  const sideLine = mk('path', { d: sideCurve, fill: 'none', stroke: '#111', 'stroke-width': 3 }, g);
  
  
}
drawScatter({ id: 'panel-b', left: 200.6, right: 1071, x0: 235, xk: 72.1, y0: 2227, yk: 0.1272, risk: riskScoreB, score: estimateScore, denseLevels: denseEstimateLevels, denseRisk: denseEstimateRisk, yTicks: estimateTicks, yMinor: estimateMinorTicks, upper: estimateUpper, lower: estimateLower, fit: estimateFit, densScore: estimateDensityScore, densValue: estimateDensityValue, densBase: 1080 });
drawScatter({ id: 'panel-c', left: 1408, right: 2279, x0: 1442, xk: 72, y0: 2315, yk: 0.2204, risk: riskScoreC, score: immuneScore, denseLevels: denseImmuneLevels, denseRisk: denseImmuneRisk, yTicks: immuneTicks, yMinor: immuneMinorTicks, upper: immuneUpper, lower: immuneLower, fit: immuneFit, densScore: immuneDensityScore, densValue: immuneDensityValue, densBase: 2287 });
drawScatter({ id: 'panel-d', left: 2629, right: 3500, x0: 2663, xk: 71.9, y0: 2227, yk: 0.1272, risk: riskScoreB, score: estimateScore, denseLevels: denseEstimateLevels, denseRisk: denseEstimateRisk, yTicks: estimateTicks, yMinor: estimateMinorTicks, upper: estimateUpper, lower: estimateLower, fit: estimateFit, densScore: estimateDensityScore, densValue: estimateDensityValue, densBase: 3510 });

// ---------- Panel E ----------
(function () {
  const g = document.getElementById('panel-e');
  const softwareColors = ['#FB7A71', '#C49A00', '#53B400', '#00C094', '#00B6EB', '#A58AFF', '#FB61D7'];
  const x = v => 2193 + v * 1478;
  const rowY = i => 2733.6 + i * 35.43;
  const left = 1420, right = 2985, top = 2716, bottom = 5195;
  const softwareOfRow = [];
  softwareCounts.forEach((n, s) => { for (let k = 0; k < n; k++) softwareOfRow.push(s); });

  const frame = mk('rect', { x: left, y: top, width: right - left, height: bottom - top, fill: '#fff', stroke: '#000', 'stroke-width': 6 }, g);
  
  

  correlationMinorTicks.forEach(v => {
    const l = mk('line', { x1: x(v), x2: x(v), y1: top, y2: bottom, stroke: '#c4c4c4', 'stroke-width': 3 }, g);
    
    
  });
  correlationTicks.forEach(v => {
    const l = mk('line', { x1: x(v), x2: x(v), y1: top, y2: bottom, stroke: '#bebebe', 'stroke-width': 5 }, g);
    
    
    const t = mk('line', { x1: x(v), x2: x(v), y1: bottom, y2: bottom + 20, stroke: '#333', 'stroke-width': 5 }, g);
    
    
    const s = mk('text', { 'font-size': 59, 'text-anchor': 'middle', fill: '#4d4d4d', transform: 'translate(' + x(v) + ',5274) scale(.79,1)' }, g);
    s.textContent = v.toFixed(2).replace('-', '−');
    
    
  });
  immuneCells.forEach((cell, i) => {
    const l = mk('line', { x1: left - 3, x2: right + 3, y1: rowY(i), y2: rowY(i), stroke: '#bebebe', 'stroke-width': 6 }, g);
    
    
    const t = mk('line', { x1: 1405, x2: left, y1: rowY(i), y2: rowY(i), stroke: '#333', 'stroke-width': 5 }, g);
    
    
  });
  correlations.forEach((v, i) => {
    const d = mk('ellipse', { cx: x(v), cy: rowY(i), rx: 26, ry: 32, fill: softwareColors[softwareOfRow[i]], 'clip-path': 'url(#panel-e-clip)' }, g);
    
    
  });
  immuneCells.forEach((cell, i) => {
    const s = mk('text', { 'font-size': 54, 'text-anchor': 'end', fill: softwareColors[softwareOfRow[i]], transform: 'translate(1390,' + (rowY(i) + 14) + ') scale(.875,1)' }, g);
    s.textContent = cell + '_' + softwareNames[softwareOfRow[i]];
    
    
  });

  const leg = document.getElementById('software-legend');
  softwareNames.forEach((name, i) => {
    const cy = 3678 + i * 108.9;
    const k = mk('ellipse', { cx: 3120, cy: cy, rx: 27, ry: 32, fill: softwareColors[i] }, leg);
    
    
    const s = mk('text', { 'font-size': 58, fill: '#000', transform: 'translate(3191,' + (cy + 21) + ') scale(.82,1)' }, leg);
    s.textContent = name;
    
    
  });
})();
</script>
</body>
</html>
